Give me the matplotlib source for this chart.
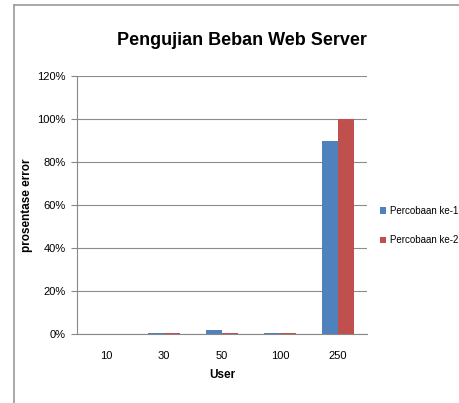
import numpy as np
import matplotlib.pyplot as plt
from matplotlib.lines import Line2D

plt.rcParams['font.family'] = ['Liberation Sans', 'DejaVu Sans']

users = ['10', '30', '50', '100', '250']
percobaan_1 = [0.0, 0.5, 2.0, 0.5, 90.0]
percobaan_2 = [0.0, 0.5, 0.5, 0.5, 100.0]
yticks = [0, 20, 40, 60, 80, 100, 120]

blue = '#4F81BD'
red = '#C0504D'

fig = plt.figure(figsize=(4.6, 4.03), dpi=100)
ax = fig.add_axes([0.167, 0.171, 0.631, 0.640])

x = np.arange(len(users))
w = 0.275
ax.bar(x - w / 2, percobaan_1, w, color=blue, label='Percobaan ke-1', zorder=3)
ax.bar(x + w / 2, percobaan_2, w, color=red, label='Percobaan ke-2', zorder=3)

ax.set_xlim(-0.5, len(users) - 0.5)
ax.set_ylim(0, 120)
ax.set_yticks(yticks)
ax.set_yticklabels([f'{v}%' for v in yticks], fontsize=8)
ax.set_xticks(x)
ax.set_xticklabels(users, fontsize=8)
ax.tick_params(axis='x', length=0, pad=12)
ax.tick_params(axis='y', length=4, color='#888888', pad=4)
ax.grid(axis='y', color='#8c8c8c', linewidth=0.8, zorder=0)
for s in ('top', 'right'):
    ax.spines[s].set_visible(False)
ax.spines['left'].set_color('#888888')
ax.spines['bottom'].set_color('#888888')

ax.set_xlabel('User', fontsize=8.5, fontweight='bold', labelpad=6)
ax.set_ylabel('prosentase error', fontsize=8.5, fontweight='bold', labelpad=3)
fig.text(0.525, 0.9, 'Pengujian Beban Web Server', ha='center', va='center',
         fontsize=13, fontweight='bold')

ax.legend(loc='center left', bbox_to_anchor=(1.02, 0.42), frameon=False,
          fontsize=7, handlelength=0.7, handleheight=0.7, handletextpad=0.4,
          labelspacing=2.0, borderaxespad=0.3)

# outer chart border
fig.add_artist(Line2D([14 / 460, 14 / 460], [0, 1 - 5 / 403], color='#999999', lw=1.2))
fig.add_artist(Line2D([14 / 460, 1], [1 - 5 / 403, 1 - 5 / 403], color='#999999', lw=1.2))

fig.savefig('out.png', dpi=100)
